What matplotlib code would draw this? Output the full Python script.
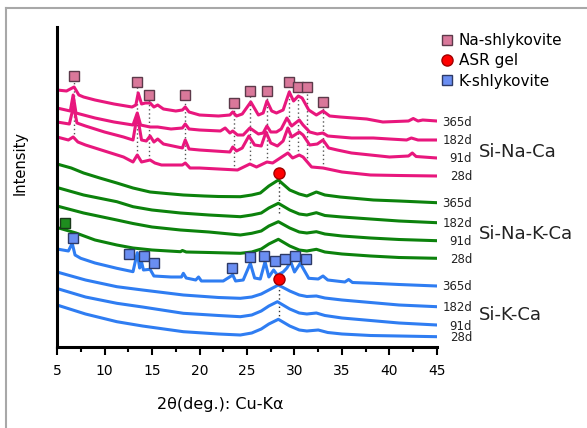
import numpy as np
import matplotlib
matplotlib.use("Agg")
from matplotlib import pyplot as plt
from matplotlib.lines import Line2D

# ---- data (2theta, intensity in arbitrary offset units) ----
days = ["365d", "182d", "91d", "28d"]
groups = ["Si-Na-Ca", "Si-Na-K-Ca", "Si-K-Ca"]

na_365_x = [5.0, 6.0, 6.8, 7.3, 7.8, 9, 11, 12.9, 13.3, 13.55, 13.9, 14.3, 14.8, 15.2, 15.6, 16.2, 17.5, 18.2, 18.5, 18.9,
            20.0, 22, 23.2, 23.5, 23.9, 24.5, 25.4, 26.2, 26.7, 27.1, 27.6, 28.1, 28.8, 29.45, 29.9, 30.4, 30.8, 31.5, 32.3,
            33.0, 33.7, 34.8, 37.6, 39.3, 42.0, 42.5, 43, 43.5, 45]
na_365_y = [257, 256, 260, 252, 250, 247, 243, 240, 242, 254, 243, 244, 244, 240, 242, 238, 236, 237, 240, 235,
            232, 231, 232, 235, 231, 233, 245, 232, 234, 246, 236, 234, 237, 255, 246, 251, 249, 237, 232,
            236, 231, 230, 228, 225, 226, 228.5, 226, 227, 226]

na_182_x = [5.0, 6.4, 6.7, 7.0, 7.8, 9, 11, 13.0, 13.45, 13.8, 14.8, 15.6, 17, 18.2, 18.5, 18.9, 20, 22.2, 22.7, 23.2,
            23.5, 24.0, 24.6, 25.3, 26.2, 26.7, 27.1, 27.5, 28.1, 28.6, 29.2, 29.7, 30.5, 30.9, 31.6, 32.4, 33.0, 33.5,
            36, 38.3, 40, 41.8, 42.3, 43, 45]
na_182_y = [239, 236, 252, 234, 232, 229, 225, 222, 234, 222, 220, 220, 218, 219, 223, 218, 217, 216, 219, 214,
            216, 212, 212, 219, 213, 214, 221, 215, 215, 218, 229, 221, 227, 222, 215, 213, 214, 211,
            209, 209, 208, 207, 209, 207, 207]

na_91_x = [5.0, 6.3, 6.75, 7.1, 8, 10, 12, 13.0, 13.45, 13.9, 14.4, 14.8, 15.2, 15.6, 16.2, 18.2, 18.5, 18.9, 20, 23.2,
           23.5, 23.9, 24.5, 25.2, 25.8, 26.5, 27.0, 27.5, 28.2, 28.8, 29.3, 29.7, 30.5, 30.9, 31.6, 32.4, 33.0, 33.6,
           34.5, 36, 38, 40, 42.0, 42.4, 42.8, 45]
na_91_y = [225, 223, 241, 224, 221, 215, 210, 207, 232, 207, 206, 211, 205, 208, 203, 199, 207, 198, 197, 195,
           200, 196, 199, 211, 202, 201, 215, 204, 201, 206, 219, 210, 215, 212, 202, 203, 207, 199,
           197, 194, 192, 190, 191, 194, 190.5, 189]

na_28_x = [5.0, 6.2, 6.7, 7.2, 8, 10, 12, 13.0, 13.45, 13.9, 14.8, 15.3, 16, 18.2, 18.5, 19, 20, 24.0, 25.3, 26, 27.1,
           27.7, 28.5, 29.3, 29.8, 30.5, 30.9, 31.8, 33, 35, 38, 41, 45]
na_28_y = [210, 207, 210, 205, 202, 196, 190, 185, 192, 185, 187, 184, 182, 182, 184, 179, 179, 177, 183, 180, 185,
           184, 189, 194, 189, 192, 190, 180, 179, 175, 172, 171.5, 171]

nak_365_x = [5.0, 6.5, 7.8, 9.5, 11.3, 13, 14.8, 16.5, 18.3, 20.5, 22, 24.3, 25.5, 26.4, 27.3, 28.3, 29.5, 30.5, 31.3,
             32.3, 33.2, 34.8, 38.3, 41, 45]
nak_365_y = [183, 179, 174, 169, 164, 159, 155, 153.5, 152, 151, 150.5, 150.3, 152, 154, 161, 167, 157, 153, 151,
             155, 152, 150, 147, 146, 144.3]

nak_182_x = [5.0, 7.8, 11.3, 13, 15, 18, 21, 24.3, 25.5, 26.5, 27.3, 28.3, 29.5, 30.5, 31.3, 32.3, 33.2, 35, 38, 41, 45]
nak_182_y = [159.5, 152, 145.3, 140.3, 137, 134, 132, 130.3, 132, 134, 139, 143.7, 137, 133, 132, 134.3, 131.5, 130,
             128, 126, 124.3]

nak_91_x = [5.0, 7.8, 11.3, 13, 15, 18, 21, 24.3, 25.5, 26.5, 27.3, 28.3, 29.5, 30.5, 31.3, 32.3, 33.2, 35, 38, 41, 45]
nak_91_y = [141, 134, 127, 123.5, 120, 117, 115, 112, 113.7, 116, 121, 125.3, 119, 115, 114, 115.3, 113, 111, 109,
            107.5, 106.3]

nak_28_x = [5.0, 7, 9, 11.3, 13, 15, 18, 18.2, 18.6, 21, 24.3, 25.5, 26.5, 27.3, 28.3, 29.5, 30.5, 31.3, 32.3, 33.2,
            35, 38, 41, 45]
nak_28_y = [119.5, 114, 107, 102, 99, 97, 95.3, 96.5, 95, 94.5, 93.7, 95, 98, 103, 107.7, 101, 97, 96, 97.7, 95,
            93, 91, 89.5, 88.7]

k_365_x = [5.0, 6.2, 6.6, 6.9, 7.5, 9, 11.3, 13.0, 13.45, 13.7, 13.9, 14.1, 14.8, 15.2, 17, 18.1, 18.3, 18.6, 19.6,
           19.9, 20.2, 22.5, 23.5, 23.8, 24.6, 25.35, 25.8, 26.4, 26.9, 27.3, 27.8, 28.2, 28.8, 29.2, 29.6, 30.0,
           30.6, 31.5, 32.5, 33.0, 33.5, 35.3, 35.7, 36.1, 38.3, 41, 45]
k_365_y = [98, 96, 103.7, 92, 88.7, 84, 78.7, 75.3, 94.3, 79, 85, 77, 77.7, 71, 70, 70, 73.7, 69, 67,
           70, 66, 66, 72, 66, 67, 83.7, 69, 68, 85.3, 70, 77, 72, 75, 79, 85.3, 75,
           83.7, 68.7, 68, 71, 67, 65, 67.5, 64.5, 63.7, 62.5, 61]

k_182_x = [5.0, 8, 11.3, 14, 18.3, 22, 24.3, 25.5, 26.5, 27.3, 28.3, 29.5, 30.5, 31.3, 32.3, 33.2, 35, 38, 41, 45]
k_182_y = [75, 67, 60.3, 57, 52, 49.5, 48.7, 50, 53, 57, 62, 56, 52, 50.5, 51, 49, 47, 44.5, 42, 40.3]

k_91_x = [5.0, 8, 11.3, 14, 18.3, 22, 24.3, 25.5, 26.5, 27.3, 28.2, 29.5, 30.5, 31.3, 32.3, 33.2, 35, 38, 41, 45]
k_91_y = [58.5, 50, 43.7, 40, 33.7, 31.5, 30.3, 32, 36, 41, 45.3, 38, 34, 33, 34, 31.5, 29, 26.5, 24, 22]

k_28_x = [5.0, 8, 11.3, 14, 18.3, 22, 24.3, 25.5, 26.5, 27.3, 28.3, 29.5, 30.5, 31.3, 32.5, 33.5, 35, 38, 41, 45]
k_28_y = [42, 33, 25.3, 21, 15.3, 13, 12, 14, 18, 23, 27.7, 21, 17, 16, 17, 14.5, 13, 11.5, 11, 10.3]

# phase markers
na_shly_x = [6.8, 13.45, 14.7, 18.5, 23.6, 25.3, 27.1, 29.4, 30.4, 31.35, 33.0]
na_shly_y = [271.3, 265.3, 251.7, 251.7, 244.3, 256, 256, 265, 260.3, 260.3, 245.3]
asr_x = [28.4, 28.4]
asr_y = [174.3, 68]
asr_line_bottom = [134, 27]
k_shly_x = [6.7, 12.6, 14.2, 15.2, 23.45, 25.3, 26.8, 27.9, 29.0, 30.1, 31.2]
k_shly_y = [109.3, 92.7, 91, 83.7, 79.3, 89.7, 91.3, 86.3, 88, 91.3, 88]
nak_mark_x = [5.85]
nak_mark_y = [124.3]

group_label_y = [194.7, 113, 32]

series = [
    ("#E8177D", [(na_365_x, na_365_y), (na_182_x, na_182_y), (na_91_x, na_91_y), (na_28_x, na_28_y)]),
    ("#0C820C", [(nak_365_x, nak_365_y), (nak_182_x, nak_182_y), (nak_91_x, nak_91_y), (nak_28_x, nak_28_y)]),
    ("#2F7DF2", [(k_365_x, k_365_y), (k_182_x, k_182_y), (k_91_x, k_91_y), (k_28_x, k_28_y)]),
]

fig = plt.figure(figsize=(5.87, 4.28), dpi=100)
ax = fig.add_axes([57 / 587, 1 - 347 / 428, 380 / 587, 320 / 428])

# grey frame line on the top and left of the figure
fig.add_artist(Line2D([6 / 587, 1], [1 - 8 / 428] * 2, color="#A8A8A8", lw=1.5, transform=fig.transFigure))
fig.add_artist(Line2D([6 / 587] * 2, [0, 1 - 8 / 428], color="#A8A8A8", lw=1.5, transform=fig.transFigure))

# dotted guide lines
na28 = np.interp(na_shly_x, na_28_x, na_28_y)
ax.vlines(na_shly_x, na28, np.array(na_shly_y) - 5, colors="#555555", linestyles=(0, (1, 2)), lw=1, zorder=1)
ax.vlines(asr_x, asr_line_bottom, np.array(asr_y) - 5, colors="#333333", linestyles=(0, (1, 2)), lw=1, zorder=1)

for color, traces in series:
    for (x, y), day in zip(traces, days):
        ax.plot(x, y, color=color, lw=2.2, solid_joinstyle="round", zorder=2)
        ax.text(48.7, y[-1] - 1, day, ha="right", va="center", fontsize=8.5, color="#222222", clip_on=False)

for name, yy in zip(groups, group_label_y):
    ax.text(49.4, yy, name, ha="left", va="center", fontsize=13, color="#222222", clip_on=False)

ax.plot(na_shly_x, na_shly_y, "s", ms=7, mfc="#D9789A", mec="#5C3A4A", mew=1, ls="none", zorder=4)
ax.plot(k_shly_x, k_shly_y, "s", ms=7, mfc="#6A8EF2", mec="#2D3A66", mew=1, ls="none", zorder=4)
ax.plot(nak_mark_x, nak_mark_y, "s", ms=7, mfc="#1E8C1E", mec="#1A3A1A", mew=1, ls="none", zorder=4, clip_on=False)
ax.plot(asr_x, asr_y, "o", ms=8, mfc="#FF0000", mec="#A00000", mew=1, ls="none", zorder=4)

handles = [
    Line2D([], [], marker="s", ms=7, mfc="#D9789A", mec="#5C3A4A", ls="none"),
    Line2D([], [], marker="o", ms=8, mfc="#FF0000", mec="#A00000", ls="none"),
    Line2D([], [], marker="s", ms=7, mfc="#6A8EF2", mec="#2D3A66", ls="none"),
]
fig.legend(handles, ["Na-shlykovite", "ASR gel", "K-shlykovite"], loc="upper left",
           bbox_to_anchor=(439 / 587, 1 - 33 / 428), frameon=False, fontsize=11, handlelength=1,
           handletextpad=0.3, labelspacing=0.35, borderpad=0, borderaxespad=0)

ax.set_xlim(5, 45)
ax.set_ylim(0, 320)
ax.set_xticks(range(5, 46, 5))
ax.set_xticks(np.arange(7.5, 45, 5), minor=True)
ax.tick_params(axis="x", which="major", length=6, width=1.5, labelsize=10, pad=6)
ax.tick_params(axis="x", which="minor", length=3.5, width=1.5)
ax.set_yticks([])
for s in ["top", "right"]:
    ax.spines[s].set_visible(False)
for s in ["left", "bottom"]:
    ax.spines[s].set_linewidth(2.2)

ax.set_xlabel("2θ(deg.): Cu-Kα", fontsize=11.5)
ax.xaxis.set_label_coords(0.43, -0.155)
ax.set_ylabel("Intensity", fontsize=10.5)
ax.yaxis.set_label_coords(-0.076, 0.575)

fig.savefig("out.png", dpi=100)
